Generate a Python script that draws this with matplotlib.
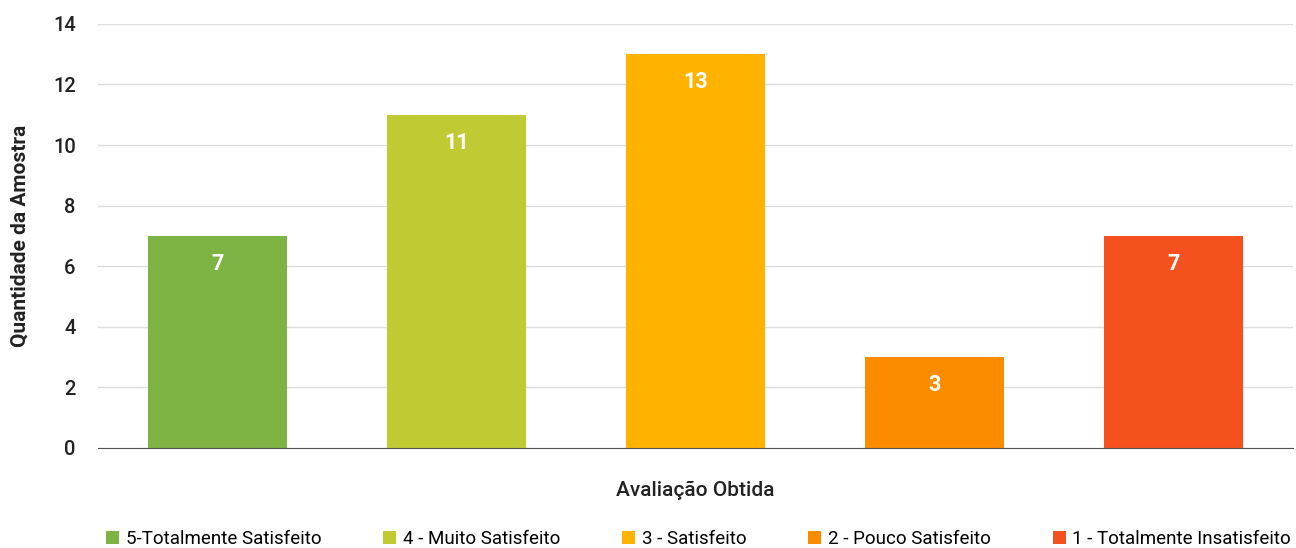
import matplotlib.pyplot as plt
from matplotlib.patches import Patch

plt.rcParams['font.family'] = ['Roboto', 'DejaVu Sans']

categorias = ["5-Totalmente Satisfeito", "4 - Muito Satisfeito", "3 - Satisfeito",
              "2 - Pouco Satisfeito", "1 - Totalmente Insatisfeito"]
quantidades = [7, 11, 13, 3, 7]
cores = ["#7CB342", "#C0CA33", "#FFB300", "#FB8C00", "#F4511E"]
yticks = [0, 2, 4, 6, 8, 10, 12, 14]

fig = plt.figure(figsize=(12.96, 5.48), dpi=100)
ax = fig.add_axes([0.0756, 0.1825, 0.922, 0.774])

x = list(range(len(categorias)))
bars = ax.bar(x, quantidades, width=0.58, color=cores, zorder=3)

for b, v in zip(bars, quantidades):
    ax.annotate(str(v), (b.get_x() + b.get_width() / 2, v), xytext=(0, -20),
                textcoords='offset points', ha='center', va='center',
                color='white', fontsize=15.5, fontweight='bold', zorder=4)

ax.set_xlim(-0.5, 4.5)
ax.set_ylim(0, 14)
ax.set_yticks(yticks)
ax.set_xticks([])
ax.tick_params(axis='y', length=0, pad=16, labelsize=14.5, labelcolor='#222222')
for t in ax.get_yticklabels():
    t.set_fontweight('medium')
ax.grid(axis='y', color='#dddddd', linewidth=1, zorder=0)
for s in ['top', 'right', 'left']:
    ax.spines[s].set_visible(False)
ax.spines['bottom'].set_color('#555555')
ax.spines['bottom'].set_zorder(5)

ax.set_ylabel("Quantidade da Amostra", fontsize=15, fontweight='bold', color='#222222', labelpad=17)
ax.set_xlabel("Avaliação Obtida", fontsize=15, fontweight='medium', color='#222222', labelpad=24)

handles = [Patch(facecolor=c, label=l) for c, l in zip(cores, categorias)]
fig.legend(handles=handles, loc='center', bbox_to_anchor=(0.539, 0.016), ncol=5,
           frameon=False, fontsize=13.5, handlelength=0.7, handleheight=0.7,
           handletextpad=0.35, columnspacing=3.3, borderpad=0, borderaxespad=0)

fig.savefig("out.png", dpi=100)
